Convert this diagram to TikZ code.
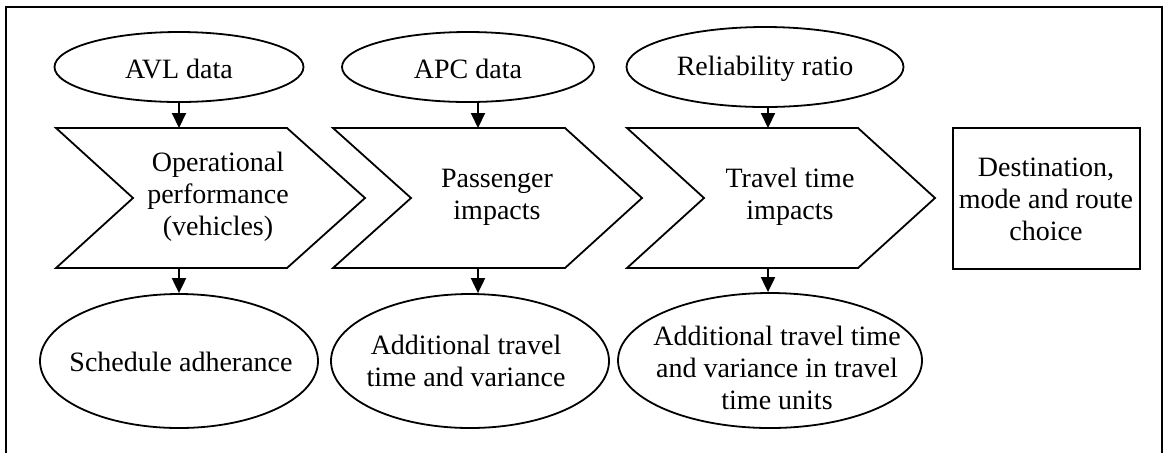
\documentclass[tikz,border=0pt]{standalone}
\usepackage{fontspec}
\setmainfont{Liberation Serif}
\usetikzlibrary{shapes.geometric,arrows.meta}
\begin{document}
\begin{tikzpicture}[x=0.5pt,y=-0.5pt,
  every node/.style={font=\fontsize{14pt}{16pt}\selectfont},
  oval/.style={draw,line width=0.9pt,ellipse,inner sep=0pt},
  txt/.style={align=center,inner sep=0pt},
  shapeline/.style={draw,line width=0.9pt,line join=miter},
  conn/.style={draw,line width=1pt,-{Triangle[width=7pt,length=7.5pt]}},
  frame/.style={draw,line width=0.6pt}]
\useasboundingbox (0,0) rectangle (1166,452);
\clip (0,0) rectangle (1166,452);
\draw[frame] (6,7) rectangle (1162,480);

% top ellipses
\node[oval,minimum width=124.5pt,minimum height=35pt] (avl) at (179,67) {};
\node[txt] (avlt) at (179,69) {AVL data};
\node[oval,minimum width=126pt,minimum height=35pt] (apc) at (468,67) {};
\node[txt] (apct) at (468,69) {APC data};
\node[oval,minimum width=138.5pt,minimum height=40pt] (rel) at (765,67) {};
\node[txt] (relt) at (765,69) {Reliability ratio};

% chevrons
\draw[shapeline] (56,128) -- (287,128) -- (365,198) -- (287,268) -- (56,268) -- (133,198) -- cycle;
\draw[shapeline] (333,128) -- (565,128) -- (642,198) -- (565,268) -- (333,268) -- (411,198) -- cycle;
\draw[shapeline] (627,128) -- (858,128) -- (935,198) -- (858,268) -- (627,268) -- (704,198) -- cycle;
\node[txt] (c1t) at (218,197) {Operational\\performance\\(vehicles)};
\node[txt] (c2t) at (497,197) {Passenger\\impacts};
\node[txt] (c3t) at (790,197) {Travel time\\impacts};
\coordinate (c1top) at (179,128);
\coordinate (c1bot) at (179,268);
\coordinate (c2top) at (478,128);
\coordinate (c2bot) at (478,268);
\coordinate (c3top) at (768,128);
\coordinate (c3bot) at (768,268);

% rectangle
\node[draw,line width=0.9pt,minimum width=93.5pt,minimum height=70.5pt,inner sep=0pt] (dest) at (1046.5,198.5) {};
\node[txt] (destt) at (1046,199) {Destination,\\mode and route\\choice};

% bottom ellipses
\node[oval,minimum width=139pt,minimum height=67pt] (b1) at (179,361) {};
\node[txt] (b1t) at (181,362) {Schedule adherance};
\node[oval,minimum width=139pt,minimum height=67pt] (b2) at (470,361) {};
\node[txt] (b2t) at (466,361) {Additional travel\\time and variance};
\node[oval,minimum width=152pt,minimum height=67.5pt] (b3) at (770,360.5) {};
\node[txt] (b3t) at (777,368) {Additional travel time\\and variance in travel\\time units};

% connectors
\draw[conn] (c1top |- avl.south) -- (c1top);
\draw[conn] (c1bot) -- (c1bot |- b1.north);
\draw[conn] (c2top |- apc.south) -- (c2top);
\draw[conn] (c2bot) -- (c2bot |- b2.north);
\draw[conn] (c3top |- rel.south) -- (c3top);
\draw[conn] (c3bot) -- (c3bot |- b3.north);
\end{tikzpicture}
\end{document}
